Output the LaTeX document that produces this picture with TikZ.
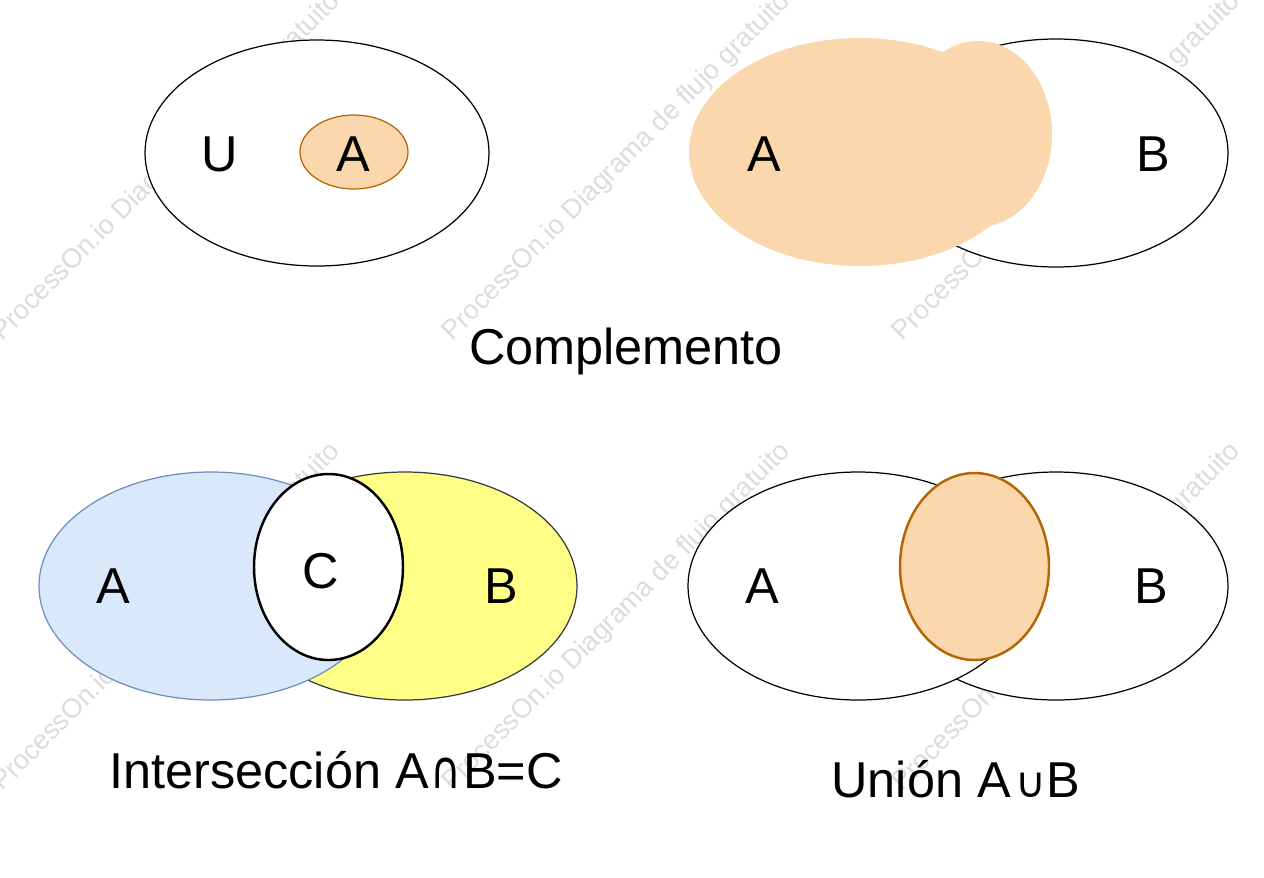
\documentclass[tikz,border=0pt]{standalone}
\usepackage{fontspec}
\setmainfont{Liberation Sans}
\newfontfamily\symfont{DejaVu Sans}
\usepackage{graphicx}
\usepackage{xcolor}
\definecolor{setfill}{HTML}{FAD7AC}
\definecolor{setline}{HTML}{B46504}
\definecolor{Afill}{HTML}{DAE8FC}
\definecolor{Aline}{HTML}{6C8EBF}
\definecolor{Bfill}{HTML}{FFFF88}
\definecolor{Bline}{HTML}{36393D}
\definecolor{markcol}{HTML}{DCDCDC}
\def\rx{172}
\def\ry{114}
\newcommand{\capsym}{\kern1pt\scalebox{0.8}[1]{\symfont\fontsize{30}{34}\selectfont ∩}\kern1pt}
\newcommand{\cupsym}{\kern2.5pt{\symfont\fontsize{24}{28}\selectfont ∪}\kern0.5pt}

\begin{document}
\begin{tikzpicture}[x=0.02cm, y=-0.02cm,
    lbl/.style={anchor=base, inner sep=0pt, font=\fontsize{28.7}{34}\selectfont},
    wmark/.style={anchor=base west, rotate=45, inner sep=0pt, text=markcol,
      font=\fontsize{15.4}{18}\selectfont}]
  \fill[white] (0,0) rectangle (1264,877);
  \useasboundingbox (0,0) rectangle (1264,877);

  % watermark tiles
  \foreach \wx in {2,452,902}
    \foreach \wy in {342,792}
      \node[wmark] (wm-\wx-\wy) at (\wx,\wy) {ProcessOn.io Diagrama de flujo gratuito};

  % complemento: U and A
  \draw[line width=0.7pt, fill=white] (317,153) ellipse [x radius=172, y radius=113];
  \draw[line width=0.7pt, setline, fill=setfill] (354,152) ellipse [x radius=54, y radius=37];
  \node[lbl] (uLbl) at (220,171) {U};
  \node[lbl] (aSub) at (353,171) {A};

  % complemento: A over B
  \draw[line width=0.7pt, fill=white] (1056,153) ellipse [x radius=\rx, y radius=\ry];
  \fill[setfill] (860,152) ellipse [x radius=171, y radius=\ry];
  \fill[setfill] (978,134) ellipse [x radius=74, y radius=93];
  \node[lbl] (aComp) at (764,171) {A};
  \node[lbl] (bComp) at (1153,171) {B};

  \node[lbl] (compTitle) at (626,364) {Complemento};

  % interseccion
  \draw[line width=0.7pt, Bline, fill=Bfill] (405,586) ellipse [x radius=\rx, y radius=\ry];
  \draw[line width=0.7pt, Aline, fill=Afill] (211,586) ellipse [x radius=\rx, y radius=\ry];
  \draw[line width=1.4pt, fill=white] (328.5,567) ellipse [x radius=74.5, y radius=93];
  \node[lbl] (aInt) at (113,603) {A};
  \node[lbl] (cInt) at (321,588) {C};
  \node[lbl] (bInt) at (501,603) {B};

  \node[lbl] (intTitle) at (336,788) {Intersección A\capsym B=C};

  % union
  \draw[line width=0.7pt, fill=white] (1056,586) ellipse [x radius=\rx, y radius=\ry];
  \draw[line width=0.7pt, fill=white] (858,586) ellipse [x radius=170, y radius=\ry];
  \draw[line width=1.4pt, setline, fill=setfill] (974.5,566.5) ellipse [x radius=74.5, y radius=93.5];
  \node[lbl] (aUni) at (762,603) {A};
  \node[lbl] (bUni) at (1151,603) {B};

  \node[lbl] (uniTitle) at (956,797) {Unión A\cupsym B};
\end{tikzpicture}
\end{document}
